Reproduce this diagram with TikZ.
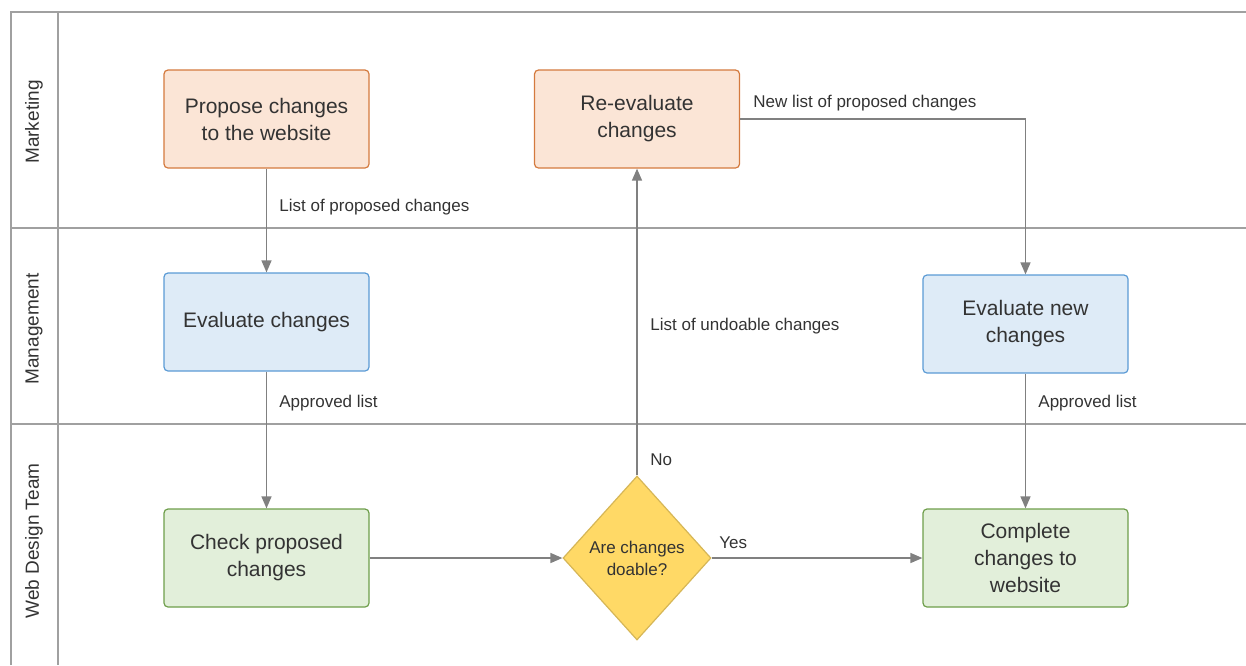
\documentclass[tikz,border=0pt]{standalone}
\usepackage{fontspec}
\setmainfont{Liberation Sans}
\usepackage{xcolor}
\usetikzlibrary{arrows.meta,shapes.geometric}

\definecolor{orangefill}{HTML}{FBE5D6}
\definecolor{orangeline}{HTML}{D47A3E}
\definecolor{bluefill}{HTML}{DEEBF7}
\definecolor{blueline}{HTML}{5B9BD5}
\definecolor{greenfill}{HTML}{E2EFDA}
\definecolor{greenline}{HTML}{6E9E4B}
\definecolor{yellowfill}{HTML}{FFD966}
\definecolor{yellowline}{HTML}{D6B656}
\definecolor{flowgray}{HTML}{808080}
\definecolor{lanegray}{HTML}{A0A0A0}
\definecolor{txtgray}{HTML}{333333}

\begin{document}
\begin{tikzpicture}[x=0.5pt,y=-0.5pt,>={Triangle[length=6pt,width=5pt]},
  task/.style={rectangle,rounded corners=2pt,minimum width=102.5pt,minimum height=49pt,
    align=center,text=txtgray,line width=0.6pt,font=\fontsize{10.5}{13.5}\selectfont},
  mkt/.style={task,fill=orangefill,draw=orangeline},
  mgt/.style={task,fill=bluefill,draw=blueline},
  web/.style={task,fill=greenfill,draw=greenline},
  decide/.style={diamond,minimum width=74pt,minimum height=82pt,inner sep=0pt,align=center,
    fill=yellowfill,draw=yellowline,line width=0.6pt,text=txtgray,
    font=\fontsize{8.5}{11}\selectfont},
  lbl/.style={anchor=west,inner sep=0pt,text=txtgray,font=\fontsize{8.5}{10}\selectfont},
  lane/.style={rotate=90,inner sep=0pt,text=txtgray,font=\fontsize{9.5}{11}\selectfont},
  flow/.style={->,color=flowgray,line width=0.7pt}]

    \useasboundingbox (0,0) rectangle (1246,665);

    % The lanes
    \draw[lanegray,line width=0.9pt] (11,665) -- (11,12) -- (1246,12);
    \draw[lanegray,line width=0.9pt] (58,12) -- (58,665);
    \draw[lanegray,line width=0.9pt] (11,228) -- (1246,228);
    \draw[lanegray,line width=0.9pt] (11,424) -- (1246,424);

    \node [lane] at (34,122) (lMkt) {Marketing};
    \node [lane] at (34,329) (lMgt) {Management};
    \node [lane] at (34,541) (lWeb) {Web Design Team};

    % The steps
    \node [mkt] at (266.5,119) (propose) {Propose changes\\to the website};
    \node [mkt] at (637,119) (reeval) {Re-evaluate\\changes};

    \node [mgt] at (266.5,322) (evalA) {Evaluate changes};
    \node [mgt] at (1025.5,324) (evalB) {Evaluate new\\changes};

    \node [web] at (266.5,558) (check) {Check proposed\\changes};
    \node [decide] at (637,558) (doable) {Are changes\\doable?};
    \node [web] at (1025.5,558) (complete) {Complete\\changes to\\website};

    % Flow edges
    \path[flow]
    (propose) edge (evalA)
    (evalA) edge (check)
    (check) edge (doable)
    (doable) edge (complete)
    (doable) edge (reeval)
    (evalB) edge (complete);

    \draw[flow] (reeval.east) -| (evalB.north);

    % Edge labels
    \node [lbl] at (279,207) (tProposed) {List of proposed changes};
    \node [lbl] at (279,403) (tApprA) {Approved list};
    \node [lbl] at (650,326) (tUndo) {List of undoable changes};
    \node [lbl] at (650,460) (tNo) {No};
    \node [lbl] at (719,543) (tYes) {Yes};
    \node [lbl] at (753,103) (tNewList) {New list of proposed changes};
    \node [lbl] at (1038,403) (tApprB) {Approved list};

\end{tikzpicture}
\end{document}
